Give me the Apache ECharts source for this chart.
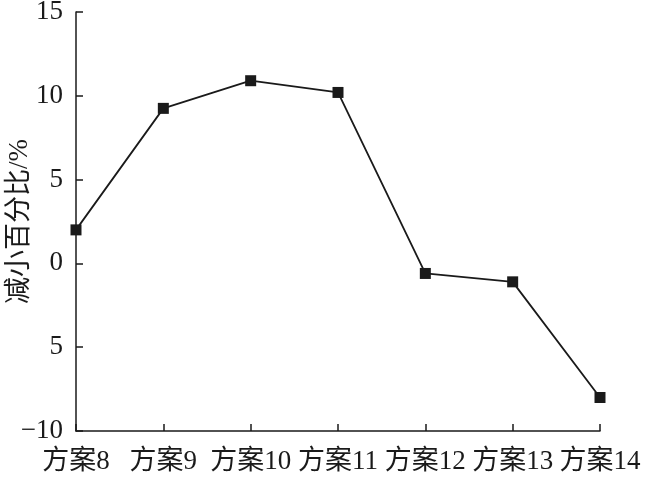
<!DOCTYPE html>
<html>
<head>
<meta charset="utf-8">
<script src="https://cdn.jsdelivr.net/npm/echarts@6/dist/echarts.min.js"></script>
<style>html,body{margin:0;padding:0;background:#fff;}#c{width:650px;height:482px;}</style>
</head>
<body>
<div id="c"></div>
<script>
var categories = ['方案8', '方案9', '方案10', '方案11', '方案12', '方案13', '方案14'];
var values = [2.0, 9.25, 10.9, 10.2, -0.6, -1.1, -8.0];
var yTickValues = [-10, -5, 0, 5, 10, 15];
var yTickLabels = ['\u221210', '5', '0', '5', '10', '15'];
var yAxisTitle = '减小百分比/%';

var fontFam = '"Liberation Serif", "Noto Sans CJK SC", serif';
var chart = echarts.init(document.getElementById('c'), null, {renderer: 'canvas'});
chart.setOption({
  animation: false,
  grid: {left: 76, right: 50, top: 12, bottom: 51, containLabel: false, outerBoundsMode: 'none'},
  xAxis: {
    type: 'category',
    data: categories,
    boundaryGap: false,
    axisLine: {onZero: false, lineStyle: {color: '#1a1a1a', width: 1.5}},
    axisTick: {inside: true, length: 7, lineStyle: {color: '#1a1a1a', width: 1.5}},
    axisLabel: {color: '#1a1a1a', fontSize: 27, fontFamily: fontFam, margin: 17, interval: 0},
    splitLine: {show: false}
  },
  yAxis: {
    type: 'value',
    min: -10, max: 15, interval: 5,
    name: yAxisTitle,
    nameLocation: 'middle',
    nameGap: 43,
    nameMoveOverlap: false,
    nameTextStyle: {color: '#1a1a1a', fontSize: 27, fontFamily: fontFam},
    axisLine: {show: true, lineStyle: {color: '#1a1a1a', width: 1.5}},
    axisTick: {show: true, inside: true, length: 7, lineStyle: {color: '#1a1a1a', width: 1.5}},
    axisLabel: {
      color: '#1a1a1a', fontSize: 27, fontFamily: fontFam, margin: 13,
      formatter: function (v) {
        var i = yTickValues.indexOf(v);
        return i >= 0 ? yTickLabels[i] : '';
      }
    },
    splitLine: {show: false}
  },
  series: [{
    type: 'line',
    data: values,
    symbol: 'rect',
    symbolSize: 11,
    lineStyle: {color: '#1a1a1a', width: 1.8},
    itemStyle: {color: '#1a1a1a'}
  }]
});
</script>
</body>
</html>
